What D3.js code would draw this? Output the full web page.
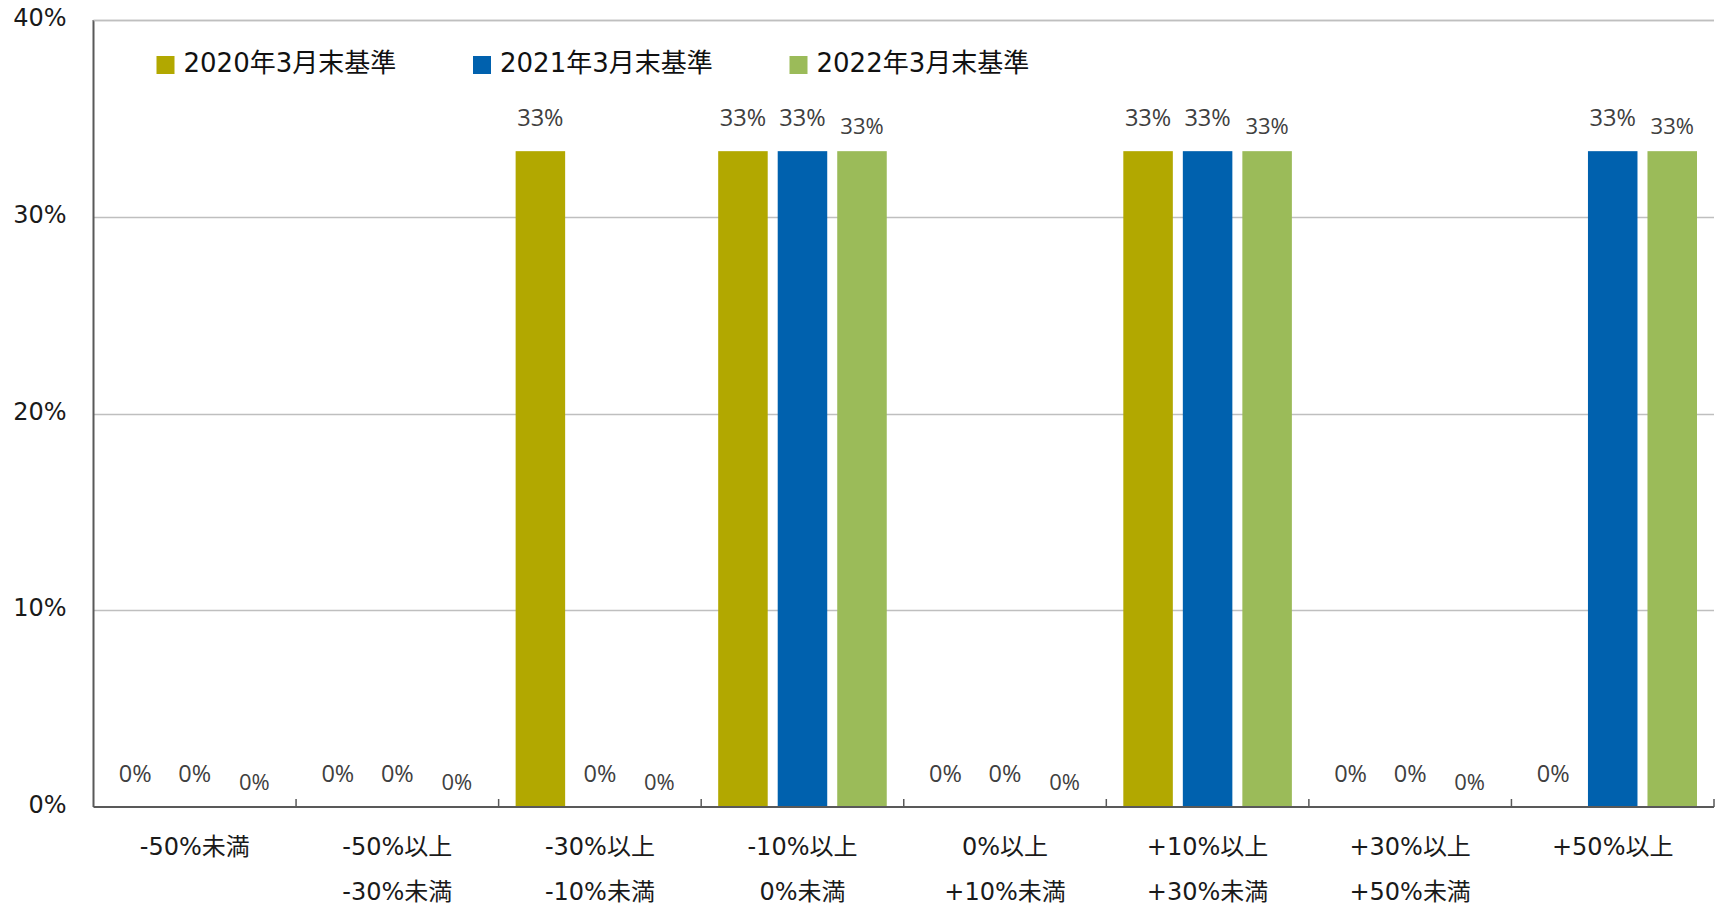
<!DOCTYPE html>
<html>
<head>
<meta charset="utf-8">
<script src="https://cdn.jsdelivr.net/npm/d3@7"></script>
<style>
  body { margin: 0; background: #fff; }
  text { font-family: "DejaVu Sans", "Noto Sans CJK JP", sans-serif; }
  text.val { font-family: "Open Sans", "Noto Sans", sans-serif; }
</style>
</head>
<body>
<div id="chart"></div>
<script>
// data
var categories = [
  ["-50%未満"],
  ["-50%以上", "-30%未満"],
  ["-30%以上", "-10%未満"],
  ["-10%以上", "0%未満"],
  ["0%以上", "+10%未満"],
  ["+10%以上", "+30%未満"],
  ["+30%以上", "+50%未満"],
  ["+50%以上"]
];
var seriesNames = ["2020年3月末基準", "2021年3月末基準", "2022年3月末基準"];
var v2020 = [0, 0, 1/3, 1/3, 0, 1/3, 0, 0];
var v2021 = [0, 0, 0, 1/3, 0, 1/3, 0, 1/3];
var v2022 = [0, 0, 0, 1/3, 0, 1/3, 0, 1/3];
var colors = ["#b2a800", "#0061ae", "#9bbb59"];
var yTicks = [0, 0.1, 0.2, 0.3, 0.4];

var seriesValues = [v2020, v2021, v2022];

var W = 1717, H = 907;
var margins = {top: 20, bottom: 100, left: 93.5, right: 3};
var width = W - margins.left - margins.right,
	height = H - margins.top - margins.bottom;

var svg = d3.select("#chart").append("svg")
	.attr("width", W)
	.attr("height", H);

var g = svg.append("g")
	.attr("transform", "translate(" + margins.left + "," + margins.top + ")");

var x0 = d3.scaleBand()
	.domain(d3.range(categories.length))
	.range([0, width]);

var pad = 17;
var x1 = d3.scaleBand()
	.domain(d3.range(seriesNames.length))
	.range([pad, x0.bandwidth() - pad])
	.paddingInner(0.168);

var y = d3.scaleLinear()
	.domain([0, 0.4])
	.range([height, 0]);

// gridlines
g.selectAll("line.grid")
	.data(yTicks.slice(1))
.enter().append("line")
	.attr("class", "grid")
	.attr("x1", 0)
	.attr("x2", width)
	.attr("y1", function(d) { return Math.round(y(d)) + 0.5; })
	.attr("y2", function(d) { return Math.round(y(d)) + 0.5; })
	.attr("stroke", "#bfbfbf")
	.attr("stroke-width", 1.3);

// y labels
g.selectAll("text.ylab")
	.data(yTicks)
.enter().append("text")
	.attr("class", "ylab")
	.attr("x", -27)
	.attr("y", function(d) { return y(d) + 6; })
	.attr("text-anchor", "end")
	.style("font-size", "24px")
	.attr("fill", "#1a1a1a")
	.text(d3.format(".0%"));

// bars
var groups = g.selectAll("g.cat")
	.data(categories)
.enter().append("g")
	.attr("class", "cat")
	.attr("transform", function(d, i) { return "translate(" + x0(i) + ",0)"; });

groups.each(function(c, ci) {
	var grp = d3.select(this);
	var rows = seriesValues.map(function(vals, si) { return {s: si, v: vals[ci]}; });

	grp.selectAll("rect")
		.data(rows)
	.enter().append("rect")
		.attr("x", function(d) { return x1(d.s); })
		.attr("width", x1.bandwidth())
		.attr("y", function(d) { return y(d.v); })
		.attr("height", function(d) { return height - y(d.v); })
		.attr("fill", function(d) { return colors[d.s]; });

	grp.selectAll("text.val")
		.data(rows)
	.enter().append("text")
		.attr("class", "val")
		.attr("x", function(d) { return x1(d.s) + x1.bandwidth() / 2; })
		.attr("y", function(d) { return y(d.v) - (d.s == 2 ? 17 : 25); })
		.attr("text-anchor", "middle")
		.style("font-size", function(d) { return d.s == 2 ? "22px" : "23.5px"; })
		.attr("fill", "#404040")
		.text(function(d) { return Math.round(d.v * 100) + "%"; });
});

// axes lines
g.append("line")
	.attr("x1", 0).attr("x2", 0)
	.attr("y1", 0).attr("y2", height)
	.attr("stroke", "#595959")
	.attr("stroke-width", 2);

g.append("line")
	.attr("x1", 0).attr("x2", width)
	.attr("y1", 0.5).attr("y2", 0.5)
	.attr("stroke", "#bfbfbf")
	.attr("stroke-width", 1.3);

g.append("line")
	.attr("x1", 0).attr("x2", width)
	.attr("y1", height).attr("y2", height)
	.attr("stroke", "#595959")
	.attr("stroke-width", 2);

// ticks at category edges
g.selectAll("line.tick")
	.data(d3.range(1, categories.length + 1))
.enter().append("line")
	.attr("class", "tick")
	.attr("x1", function(i) { return i < categories.length ? x0(i) : width; })
	.attr("x2", function(i) { return i < categories.length ? x0(i) : width; })
	.attr("y1", height)
	.attr("y2", height - 8)
	.attr("stroke", "#595959")
	.attr("stroke-width", 1.5);

// x labels
groups.each(function(c) {
	var t = d3.select(this).append("text")
		.attr("text-anchor", "middle")
		.style("font-size", "24px")
		.attr("fill", "#1a1a1a");
	c.forEach(function(line, li) {
		t.append("tspan")
			.attr("x", x0.bandwidth() / 2)
			.attr("y", height + 48 + li * 45)
			.text(line);
	});
});

// legend
var legend = g.selectAll("g.legend")
	.data(seriesNames)
.enter().append("g")
	.attr("class", "legend")
	.attr("transform", function(d, i) { return "translate(" + (63 + i * 316.5) + ",36)"; });

legend.append("rect")
	.attr("width", 18)
	.attr("height", 18)
	.attr("fill", function(d, i) { return colors[i]; });

legend.append("text")
	.attr("x", 27)
	.attr("y", 16)
	.style("font-size", "26px")
	.attr("fill", "#111")
	.text(function(d) { return d; });
</script>
</body>
</html>
